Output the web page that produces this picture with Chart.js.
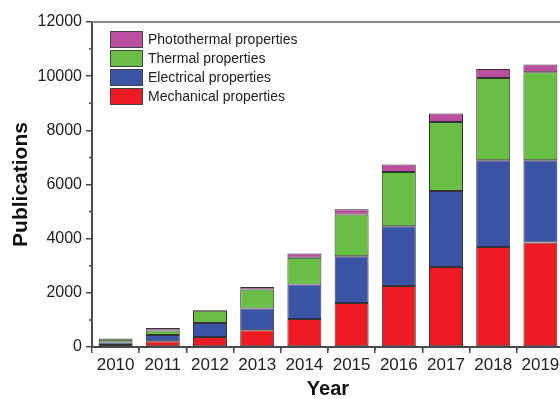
<!DOCTYPE html>
<html>
<head>
<meta charset="utf-8">
<script src="https://cdn.jsdelivr.net/npm/chart.js@4"></script>
<style>
  html, body { margin: 0; padding: 0; overflow: hidden; background: #fff; }
  #wrap { width: 566px; height: 399px; }
</style>
</head>
<body>
<div id="wrap"><canvas id="pubChart" width="566" height="399"></canvas></div>
<script>
// Publications per year, split by property type (stacked bottom to top)
const years = ['2010', '2011', '2012', '2013', '2014', '2015', '2016', '2017', '2018', '2019'];
const mechanical = [70, 210, 370, 620, 1035, 1625, 2255, 2955, 3695, 3855];
const electrical = [100, 230, 520, 800, 1270, 1725, 2200, 2805, 3200, 3040];
const thermal = [100, 170, 450, 700, 995, 1540, 2005, 2550, 3040, 3250];
const photothermal = [40, 90, 30, 95, 150, 195, 275, 310, 330, 285];
const yTicks = [0, 2000, 4000, 6000, 8000, 10000, 12000];

const FONT = '"Liberation Sans", Arial, Helvetica, sans-serif';
const AXIS = '#4a4a4a';

// minor ticks, top frame line and the in-plot legend
const extras = {
  id: 'extras',
  afterDraw(chart) {
    const ctx = chart.ctx;
    const area = chart.chartArea;
    const x = chart.scales.x, y = chart.scales.y;
    ctx.save();
    // top frame
    ctx.strokeStyle = '#888';
    ctx.lineWidth = 2;
    ctx.beginPath();
    ctx.moveTo(area.left, area.top);
    ctx.lineTo(area.right + 10, area.top);
    ctx.stroke();
    // minor ticks
    ctx.strokeStyle = AXIS;
    ctx.lineWidth = 1.5;
    ctx.beginPath();
    for (let i = 0; i < yTicks.length - 1; i++) {
      const py = y.getPixelForValue((yTicks[i] + yTicks[i + 1]) / 2);
      ctx.moveTo(area.left, py);
      ctx.lineTo(area.left - 3, py);
    }
    for (let i = 0; i < years.length - 1; i++) {
      const px = (x.getPixelForValue(i) + x.getPixelForValue(i + 1)) / 2;
      ctx.moveTo(px, area.bottom);
      ctx.lineTo(px, area.bottom + 3);
    }
    ctx.stroke();
    // legend (reversed order, top = last dataset)
    const sets = chart.data.datasets;
    ctx.font = '14px ' + FONT;
    ctx.textBaseline = 'middle';
    for (let r = 0; r < sets.length; r++) {
      const ds = sets[sets.length - 1 - r];
      const top = 31 + r * 19;
      ctx.fillStyle = ds.backgroundColor;
      ctx.fillRect(110, top, 33, 17);
      ctx.strokeStyle = '#444';
      ctx.lineWidth = 1;
      ctx.strokeRect(110.5, top + 0.5, 32, 16);
      ctx.fillStyle = '#222';
      ctx.fillText(ds.label, 148, top + 9);
    }
    ctx.restore();
  }
};

function makeSet(label, data, color) {
  return {
    label: label,
    data: data,
    backgroundColor: color,
    borderColor: '#333',
    borderWidth: 1,
    borderSkipped: false,
    categoryPercentage: 1,
    barPercentage: 0.72
  };
}

const ctx = document.getElementById('pubChart').getContext('2d');
new Chart(ctx, {
  type: 'bar',
  data: {
    labels: years,
    datasets: [
      makeSet('Mechanical properties', mechanical, '#ED1C24'),
      makeSet('Electrical properties', electrical, '#3A53A4'),
      makeSet('Thermal properties', thermal, '#6BBE45'),
      makeSet('Photothermal properties', photothermal, '#BA4F9F')
    ]
  },
  options: {
    responsive: false,
    animation: false,
    layout: { padding: { top: 22, right: 2, left: 0, bottom: 0 } },
    plugins: { legend: { display: false }, tooltip: { enabled: false } },
    scales: {
      x: {
        stacked: true,
        afterFit: s => { s.height = 52; },
        border: { color: AXIS, width: 2 },
        grid: { drawOnChartArea: false, tickLength: 6, color: AXIS, lineWidth: 1.5 },
        ticks: { color: '#222', font: { family: FONT, size: 17 }, padding: 2, maxRotation: 0, autoSkip: false },
        title: { display: true, text: 'Year', color: '#111', font: { family: FONT, size: 20, weight: 'bold', lineHeight: 1 }, padding: { top: 0, bottom: 0 } }
      },
      y: {
        stacked: true,
        min: 0,
        max: 12000,
        afterFit: s => { s.width = 92; },
        afterBuildTicks: s => { s.ticks = yTicks.map(v => ({ value: v })); },
        border: { color: AXIS, width: 2 },
        grid: { drawOnChartArea: false, tickLength: 6, color: AXIS, lineWidth: 1.5 },
        ticks: { color: '#222', font: { family: FONT, size: 16 }, padding: 4, callback: v => String(v) },
        title: { display: true, text: 'Publications', color: '#111', font: { family: FONT, size: 21, weight: 'bold', lineHeight: 1.2 }, padding: { top: 9, bottom: 0 } }
      }
    }
  },
  plugins: [extras]
});
</script>
</body>
</html>
